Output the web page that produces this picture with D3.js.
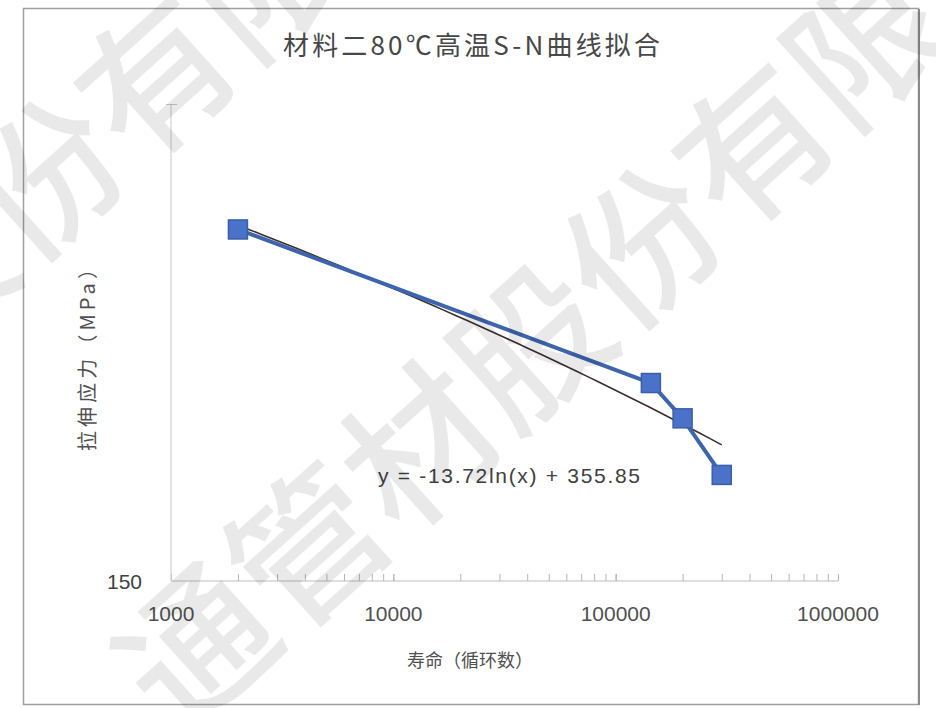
<!DOCTYPE html>
<html>
<head>
<meta charset="utf-8">
<script src="https://cdn.jsdelivr.net/npm/d3@7"></script>
<style>
  body { margin: 0; background: #fff; }
  svg { display: block; }
</style>
</head>
<body>
<svg id="chart" width="936" height="708"></svg>
<script>
// Fatigue test results: cycles to failure vs. tensile stress (MPa)
const cycles = [2000, 144000, 200000, 300000];
const stress = [250, 200, 190, 175];

// Logarithmic trendline: y = a ln(x) + b
const trendA = -13.72;
const trendB = 355.85;
const trendLabel = "y = -13.72ln(x) + 355.85";

// Axis settings
const xDomain = [1000, 1000000];
const yDomain = [150, 300];
const xTickValues = [1000, 10000, 100000, 1000000];
const yTickValues = [150];

const titleText = "材料二80℃高温S-N曲线拟合";
const xTitle = "寿命（循环数）";
const yTitle = "拉伸应力（MPa）";

// Watermark rows
const watermarkRows = [
  { text: "通管材股份有限公司", x: 190, y: 640 },
  { text: "股份有限公司", x: -73, y: 271 }
];

const svg = d3.select("#chart");
const W = 936, H = 708;
const plot = { left: 171, right: 838, top: 104, bottom: 581 };

svg.append("rect").attr("width", W).attr("height", H).attr("fill", "#fff");

// chart frame
svg.append("rect")
  .attr("x", 23.5).attr("y", 8.5).attr("width", 895).attr("height", 696)
  .attr("fill", "#fff").attr("stroke", "#a0a0a0").attr("stroke-width", 1.5);
svg.append("line")
  .attr("x1", 919).attr("x2", 919).attr("y1", 9).attr("y2", 705)
  .attr("stroke", "#8a8a8a").attr("stroke-width", 2);

const x = d3.scaleLog().domain(xDomain).range([plot.left, plot.right]);
const y = d3.scaleLog().domain(yDomain).range([plot.bottom, plot.top]);

const numFont = "'Liberation Sans', Arial, sans-serif";
const cjkFont = "'Noto Sans CJK SC', 'Noto Sans', sans-serif";

// x axis (log, minor ticks inside)
const minorX = [];
for (let d = 1000; d < 1000000; d *= 10) {
  for (let m = 1; m <= 10; m++) minorX.push(d * m);
}
const xAxis = d3.axisTop(x)
  .tickValues(minorX)
  .tickSize(7)
  .tickFormat("");
const gx = svg.append("g").attr("transform", `translate(0,${plot.bottom})`).call(xAxis);
gx.select(".domain").attr("stroke", "#bdbdbd").attr("stroke-width", 1.2)
  .attr("d", `M${plot.left},0H${plot.right}`);
gx.selectAll(".tick line").attr("stroke", "#b5b5b5");

svg.append("g").selectAll("text")
  .data(xTickValues).join("text")
  .attr("x", d => x(d))
  .attr("y", 621)
  .attr("text-anchor", "middle")
  .attr("font-family", numFont)
  .attr("font-size", 21)
  .attr("fill", "#505050")
  .text(d => d3.format("d")(d));

// y axis (log)
const gy = svg.append("g").attr("transform", `translate(${plot.left},0)`)
  .call(d3.axisLeft(y).tickValues([300]).tickSize(5).tickFormat(""));
gy.select(".domain").attr("stroke", "#d0d0d0").attr("stroke-width", 1.2)
  .attr("d", `M0,${plot.top}V${plot.bottom}`);
gy.selectAll(".tick line").attr("stroke", "#c8c8c8").attr("x1", -5).attr("x2", 6);

svg.append("g").selectAll("text")
  .data(yTickValues).join("text")
  .attr("x", 142)
  .attr("y", y(150) + 8)
  .attr("text-anchor", "end")
  .attr("font-family", numFont)
  .attr("font-size", 21)
  .attr("fill", "#404040")
  .text(d => d);

// trendline from the fitted equation
const lnMin = Math.log(d3.min(cycles)), lnMax = Math.log(d3.max(cycles));
const trendPts = d3.range(0, 41).map(i => {
  const xv = Math.exp(lnMin + (lnMax - lnMin) * i / 40);
  return [xv, trendA * Math.log(xv) + trendB];
});
svg.append("path")
  .datum(trendPts)
  .attr("fill", "none")
  .attr("stroke", "#3a2e2e")
  .attr("stroke-width", 1.6)
  .attr("d", d3.line().x(d => x(d[0])).y(d => y(d[1])));

// data series
const pts = cycles.map((c, i) => [c, stress[i]]);
svg.append("path")
  .datum(pts)
  .attr("fill", "none")
  .attr("stroke", "#3d64ad")
  .attr("stroke-width", 4)
  .attr("stroke-linejoin", "round")
  .attr("d", d3.line().x(d => x(d[0])).y(d => y(d[1])));

const ms = 19;
svg.append("g").selectAll("rect")
  .data(pts).join("rect")
  .attr("x", d => x(d[0]) - ms / 2)
  .attr("y", d => y(d[1]) - ms / 2)
  .attr("width", ms).attr("height", ms)
  .attr("fill", "#4a72c8")
  .attr("stroke", "#3a5ea8")
  .attr("stroke-width", 1.5);

// trendline equation
svg.append("text")
  .attr("x", 378).attr("y", 483)
  .attr("font-family", numFont)
  .attr("font-size", 21)
  .attr("fill", "#404040")
  .attr("textLength", 262)
  .attr("lengthAdjust", "spacing")
  .text(trendLabel);

// titles
svg.append("text")
  .attr("x", 283).attr("y", 55)
  .attr("font-family", cjkFont)
  .attr("font-size", 26)
  .attr("fill", "#474747")
  .attr("textLength", 377)
  .attr("lengthAdjust", "spacing")
  .text(titleText);

svg.append("text")
  .attr("x", 470).attr("y", 667)
  .attr("text-anchor", "middle")
  .attr("font-family", cjkFont)
  .attr("font-size", 18)
  .attr("fill", "#505050")
  .text(xTitle);

svg.append("text")
  .attr("transform", "translate(95,355) rotate(-90)")
  .attr("text-anchor", "middle")
  .attr("font-family", cjkFont)
  .attr("font-size", 20)
  .attr("fill", "#505050")
  .attr("textLength", 192)
  .attr("lengthAdjust", "spacing")
  .text(yTitle);

// watermark overlay
const wm = svg.append("g").attr("pointer-events", "none");
watermarkRows.forEach(r => {
  wm.append("text")
    .attr("transform", `translate(${r.x},${r.y}) rotate(-42)`)
    .attr("x", -75)
    .attr("dominant-baseline", "central")
    .attr("font-family", cjkFont)
    .attr("font-weight", 500)
    .attr("font-size", 150)
    .attr("fill", "#000")
    .attr("fill-opacity", 0.085)
    .text(r.text);
});
</script>
</body>
</html>
